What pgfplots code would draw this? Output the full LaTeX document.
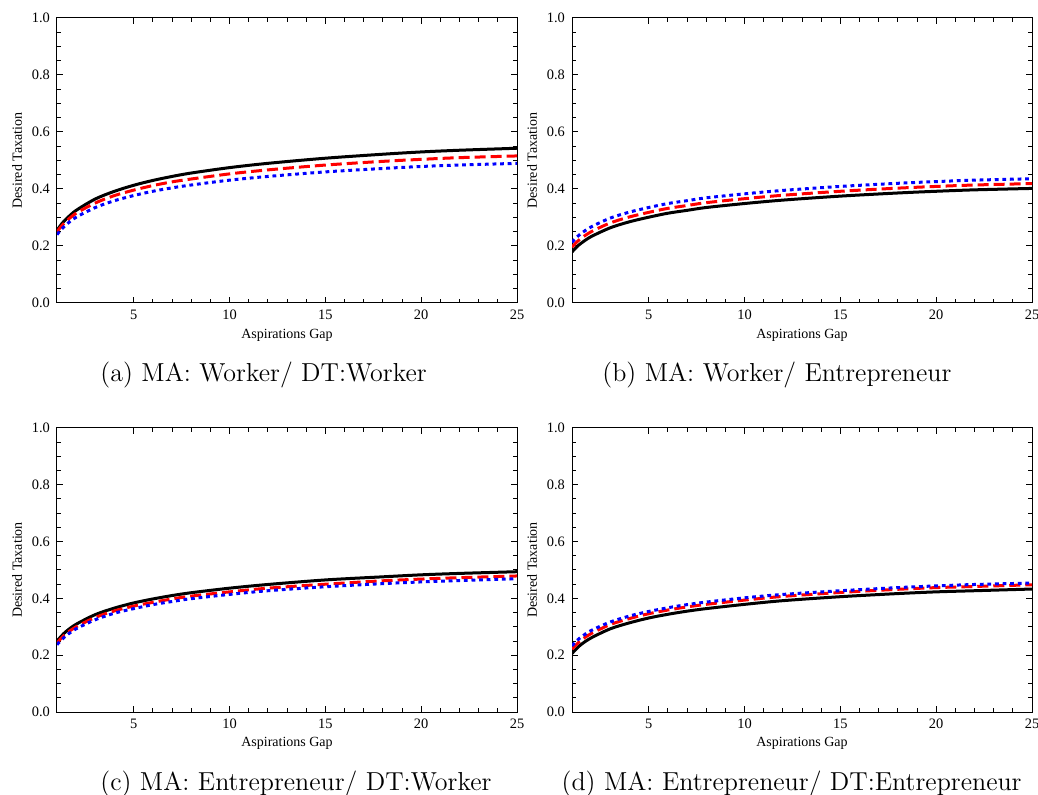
\documentclass[border=0pt]{standalone}
\usepackage{pgfplots}
\pgfplotsset{compat=1.18}
\usepackage{fontspec}
\newfontfamily\tnr{Liberation Serif}
\pgfplotsset{panel/.style={
  scale only axis, width=230pt, height=142.5pt,
  xmin=1, xmax=25, ymin=0, ymax=1,
  xtick={5,10,15,20,25}, minor x tick num=4,
  ytick={0,0.2,0.4,0.6,0.8,1}, minor y tick num=3,
  tick align=inside, major tick length=3pt, minor tick length=1.8pt,
  axis line style={line width=0.5pt},
  every tick/.style={line width=0.5pt, black},
  yticklabel style={/pgf/number format/.cd, fixed, fixed zerofill, precision=1},
  /pgf/number format/assume math mode=true,
  ticklabel style={font=\tnr\fontsize{7.2}{8}\selectfont},
  xlabel={Aspirations Gap}, ylabel={Desired Taxation},
  label style={font=\tnr\fontsize{7}{8}\selectfont},
  xlabel style={at={(axis description cs:0.5,-0.112)}, anchor=center},
  ylabel style={at={(axis description cs:-0.087,0.5)}, anchor=center},
},
blk/.style={black, line width=1.5pt, smooth},
rdd/.style={red, line width=1.5pt, smooth, dash pattern=on 5.5pt off 2.5pt},
bld/.style={blue, line width=1.5pt, smooth, dash pattern=on 1.9pt off 1.9pt},
}
\begin{document}
\begin{tikzpicture}
\useasboundingbox (0,0) rectangle (519pt,-397.5pt);
% (a)
\begin{axis}[panel, at={(28.5pt,-151.5pt)}, anchor=south west]
\addplot[blk] coordinates {(1,0.255)(1.25,0.278)(1.5,0.296)(2,0.325)(3,0.365)(4,0.392)(5,0.413)(6,0.430)(7,0.444)(8,0.456)(10,0.475)(12,0.490)(15,0.508)(18,0.522)(20,0.530)(22,0.536)(25,0.543)};
\addplot[rdd] coordinates {(1,0.250)(1.25,0.271)(1.5,0.288)(2,0.315)(3,0.351)(4,0.377)(5,0.396)(6,0.412)(7,0.425)(8,0.435)(10,0.453)(12,0.467)(15,0.484)(18,0.497)(20,0.504)(22,0.510)(25,0.516)};
\addplot[bld] coordinates {(1,0.240)(1.25,0.260)(1.5,0.276)(2,0.301)(3,0.335)(4,0.359)(5,0.377)(6,0.392)(7,0.404)(8,0.414)(10,0.431)(12,0.444)(15,0.460)(18,0.472)(20,0.479)(22,0.484)(25,0.490)};
\end{axis}
% (b)
\begin{axis}[panel, at={(286pt,-151.5pt)}, anchor=south west]
\addplot[blk] coordinates {(1,0.179)(1.25,0.197)(1.5,0.211)(2,0.233)(3,0.264)(4,0.285)(5,0.301)(6,0.315)(7,0.325)(8,0.335)(10,0.349)(12,0.361)(15,0.375)(18,0.386)(20,0.392)(22,0.397)(25,0.402)};
\addplot[rdd] coordinates {(1,0.196)(1.25,0.214)(1.5,0.228)(2,0.250)(3,0.281)(4,0.302)(5,0.318)(6,0.332)(7,0.342)(8,0.352)(10,0.366)(12,0.378)(15,0.392)(18,0.403)(20,0.409)(22,0.414)(25,0.419)};
\addplot[bld] coordinates {(1,0.213)(1.25,0.231)(1.5,0.245)(2,0.267)(3,0.298)(4,0.319)(5,0.335)(6,0.349)(7,0.359)(8,0.369)(10,0.383)(12,0.395)(15,0.409)(18,0.420)(20,0.426)(22,0.431)(25,0.436)};
\end{axis}
% (c)
\begin{axis}[panel, height=142pt, at={(28.5pt,-356pt)}, anchor=south west]
\addplot[blk] coordinates {(1,0.250)(1.25,0.269)(1.5,0.285)(2,0.309)(3,0.343)(4,0.366)(5,0.384)(6,0.398)(7,0.410)(8,0.420)(10,0.436)(12,0.449)(15,0.465)(18,0.476)(20,0.483)(22,0.488)(25,0.494)};
\addplot[rdd] coordinates {(1,0.243)(1.25,0.262)(1.5,0.277)(2,0.300)(3,0.333)(4,0.356)(5,0.373)(6,0.386)(7,0.398)(8,0.408)(10,0.423)(12,0.436)(15,0.450)(18,0.462)(20,0.468)(22,0.473)(25,0.479)};
\addplot[bld] coordinates {(1,0.237)(1.25,0.255)(1.5,0.270)(2,0.293)(3,0.325)(4,0.348)(5,0.364)(6,0.378)(7,0.389)(8,0.399)(10,0.414)(12,0.427)(15,0.441)(18,0.452)(20,0.458)(22,0.463)(25,0.469)};
\end{axis}
% (d)
\begin{axis}[panel, height=142pt, at={(286pt,-356pt)}, anchor=south west]
\addplot[blk] coordinates {(1,0.206)(1.25,0.224)(1.5,0.239)(2,0.261)(3,0.293)(4,0.314)(5,0.331)(6,0.344)(7,0.355)(8,0.364)(10,0.379)(12,0.392)(15,0.406)(18,0.417)(20,0.423)(22,0.427)(25,0.433)};
\addplot[rdd] coordinates {(1,0.221)(1.25,0.239)(1.5,0.254)(2,0.276)(3,0.308)(4,0.329)(5,0.346)(6,0.359)(7,0.370)(8,0.379)(10,0.394)(12,0.407)(15,0.421)(18,0.432)(20,0.438)(22,0.442)(25,0.448)};
\addplot[bld] coordinates {(1,0.233)(1.25,0.251)(1.5,0.265)(2,0.287)(3,0.317)(4,0.338)(5,0.354)(6,0.367)(7,0.378)(8,0.387)(10,0.402)(12,0.414)(15,0.427)(18,0.438)(20,0.444)(22,0.449)(25,0.454)};
\end{axis}
% captions
\node[anchor=west, inner sep=0, font=\fontsize{13}{15}\selectfont] at (50pt,-187.5pt) {(a) MA: Worker/ DT:Worker};
\node[anchor=west, inner sep=0, font=\fontsize{13}{15}\selectfont] at (301pt,-187.5pt) {(b) MA: Worker/ Entrepreneur};
\node[anchor=west, inner sep=0, font=\fontsize{13}{15}\selectfont] at (50pt,-392pt) {(c) MA: Entrepreneur/ DT:Worker};
\node[anchor=east, inner sep=0, font=\fontsize{13}{15}\selectfont] at (511pt,-392pt) {(d) MA: Entrepreneur/ DT:Entrepreneur};
\end{tikzpicture}
\end{document}
